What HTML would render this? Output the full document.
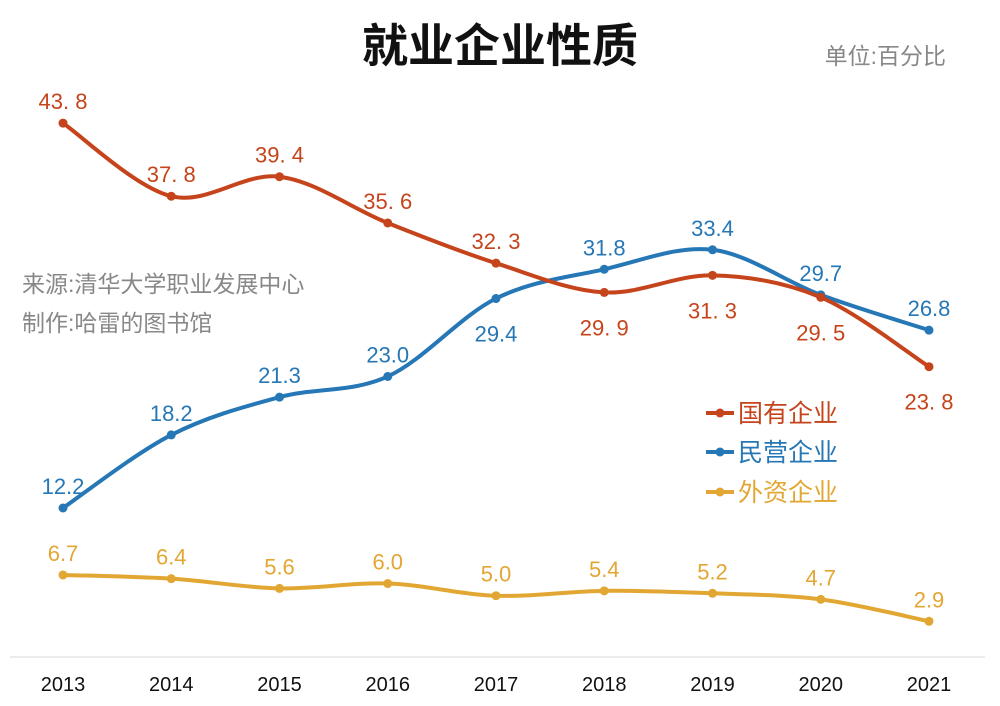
<!DOCTYPE html>
<html><head><meta charset="utf-8">
<style>
html,body{margin:0;padding:0;background:#fff;}
body{width:1000px;height:701px;overflow:hidden;font-family:"Liberation Sans","Noto Sans CJK SC",sans-serif;}
svg text{font-family:"Liberation Sans","Noto Sans CJK SC",sans-serif;}
</style></head><body>
<svg id="chart" width="1000" height="701" viewBox="0 0 1000 701" xmlns="http://www.w3.org/2000/svg">
<text x="500" y="62" text-anchor="middle" font-size="46" font-weight="bold" fill="#111">就业企业性质</text>
<text x="946" y="64" text-anchor="end" font-size="23" fill="#888">单位:百分比</text>
<text x="22" y="292" font-size="23" fill="#888">来源:清华大学职业发展中心</text>
<text x="22" y="331" font-size="23" fill="#888">制作:哈雷的图书馆</text>
<line x1="10" y1="657" x2="985" y2="657" stroke="#d9d9d9" stroke-width="1"/>
<g id="plot"></g>
<g>
<g><line x1="706" y1="413" x2="734" y2="413" stroke="#C5441B" stroke-width="4"/><circle cx="720" cy="413" r="4.5" fill="#C5441B"/><text x="738" y="422" font-size="25" fill="#C5441B">国有企业</text></g>
<g><line x1="706" y1="452" x2="734" y2="452" stroke="#2677B5" stroke-width="4"/><circle cx="720" cy="452" r="4.5" fill="#2677B5"/><text x="738" y="461" font-size="25" fill="#2677B5">民营企业</text></g>
<g><line x1="706" y1="492" x2="734" y2="492" stroke="#E2A733" stroke-width="4"/><circle cx="720" cy="492" r="4.5" fill="#E2A733"/><text x="738" y="501" font-size="25" fill="#E2A733">外资企业</text></g>
</g>
</svg>
<script>
const years = ["2013","2014","2015","2016","2017","2018","2019","2020","2021"];
const stateValues = [43.8,37.8,39.4,35.6,32.3,29.9,31.3,29.5,23.8];
const privateValues = [12.2,18.2,21.3,23.0,29.4,31.8,33.4,29.7,26.8];
const foreignValues = [6.7,6.4,5.6,6.0,5.0,5.4,5.2,4.7,2.9];
const stateLabels = ["43. 8","37. 8","39. 4","35. 6","32. 3","29. 9","31. 3","29. 5","23. 8"];
const stateBelow = [0,0,0,0,0,1,1,1,1];
const privateBelow = [0,0,0,0,1,0,0,0,0];
const foreignBelow = [0,0,0,0,0,0,0,0,0];

const NS="http://www.w3.org/2000/svg";
const plot=document.getElementById('plot');
function xScale(i){return 63+i*108.25;}
function yScale(v){return 656.6-v*12.18;}
function mk(tag,attrs){const e=document.createElementNS(NS,tag);for(const k in attrs)e.setAttribute(k,attrs[k]);return e;}
function curve(pts){
  let d="M"+pts[0][0]+","+pts[0][1];
  for(let i=0;i<pts.length-1;i++){
    const p0=pts[i-1]||pts[i],p1=pts[i],p2=pts[i+1],p3=pts[i+2]||p2;
    const t=6;
    const c1=[p1[0]+(p2[0]-p0[0])/t,p1[1]+(p2[1]-p0[1])/t];
    const c2=[p2[0]-(p3[0]-p1[0])/t,p2[1]-(p3[1]-p1[1])/t];
    d+=" C"+c1[0]+","+c1[1]+" "+c2[0]+","+c2[1]+" "+p2[0]+","+p2[1];
  }
  return d;
}
function series(name,vals,labels,below,color){
  const g=mk('g',{});
  
  
  const pts=vals.map((v,i)=>[xScale(i),yScale(v)]);
  const p=mk('path',{d:curve(pts),fill:'none',stroke:color,'stroke-width':4,'stroke-linecap':'round'});
  
  
  g.appendChild(p);
  pts.forEach((pt,i)=>{
    const c=mk('circle',{cx:pt[0],cy:pt[1],r:4.5,fill:color});
    
    
    g.appendChild(c);
    const t=mk('text',{x:pt[0],y:below[i]?pt[1]+43:pt[1]-14,'text-anchor':'middle','font-size':22,fill:color});
    
    
    t.textContent=labels?labels[i]:vals[i].toFixed(1);
    g.appendChild(t);
  });
  plot.appendChild(g);
}
series('foreign',foreignValues,null,foreignBelow,'#E2A733');
series('private',privateValues,null,privateBelow,'#2677B5');
series('state',stateValues,stateLabels,stateBelow,'#C5441B');
years.forEach((y,i)=>{
  const t=mk('text',{x:xScale(i),y:691,'text-anchor':'middle','font-size':20,fill:'#111'});
  
  
  t.textContent=y;
  plot.appendChild(t);
});
</script>
</body></html>
